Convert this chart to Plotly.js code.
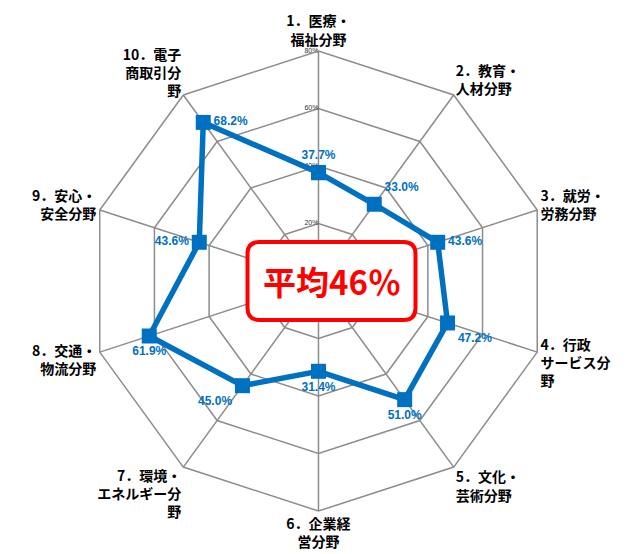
<!DOCTYPE html>
<html>
<head>
<meta charset="utf-8">
<script src="https://cdn.plot.ly/plotly-3.0.1.min.js"></script>
<style>
  html, body { margin: 0; padding: 0; background: #fff; }
  #chart { width: 627px; height: 554px; }
</style>
</head>
<body>
<div id="chart"></div>
<script>
// Categories (angular axis labels)
const categories = [
  "1．医療・<br>福祉分野",
  "2．教育・<br>人材分野",
  "3．就労・<br>労務分野",
  "4．行政<br>サービス分<br>野",
  "5．文化・<br>芸術分野",
  "6．企業経<br>営分野",
  "7．環境・<br>エネルギー分<br>野",
  "8．交通・<br>物流分野",
  "9．安心・<br>安全分野",
  "10．電子<br>商取引分<br>野"
];
// Series values (%)
const values = [37.7, 33.0, 43.6, 47.2, 51.0, 31.4, 45.0, 61.9, 43.6, 68.2];
// Radial tick values
const radialTicks = [20, 40, 60, 80];
const radialTickText = ["20%", "40%", "60%", "80%"];
const averageText = "平均46％";

const labelPositions = ["top center", "top right", "middle right", "bottom right",
  "bottom center", "bottom center", "bottom left", "bottom center", "middle left", "middle right"];

const r = values.concat([values[0]]);
const theta = categories.concat([categories[0]]);

const tickTrace = {
  type: "scatterpolar",
  r: radialTicks,
  theta: radialTicks.map(() => categories[0]),
  mode: "text",
  text: radialTickText,
  textposition: "middle left",
  textfont: { family: "Liberation Sans, Arial, sans-serif", size: 7, color: "#333" },
  cliponaxis: false,
  hoverinfo: "skip"
};

const trace = {
  type: "scatterpolar",
  r: r,
  theta: theta,
  mode: "lines+markers+text",
  text: values.map(v => v.toFixed(1) + "%").concat([""]),
  textposition: labelPositions.concat(["top center"]),
  textfont: { family: "Liberation Sans, Arial, sans-serif", size: 12, color: "#0070C0", weight: "bold" },
  line: { color: "#0070C0", width: 5.5 },
  marker: { symbol: "square", size: 15, color: "#0070C0" },
  cliponaxis: false,
  hoverinfo: "skip"
};

const cx = 331.5 / 627, cy = 1 - 281 / 554;
const hw = 84, hh = 39, rr = 12;
const boxPath =
  `M ${-hw + rr} ${-hh} L ${hw - rr} ${-hh} Q ${hw} ${-hh} ${hw} ${-hh + rr} ` +
  `L ${hw} ${hh - rr} Q ${hw} ${hh} ${hw - rr} ${hh} L ${-hw + rr} ${hh} ` +
  `Q ${-hw} ${hh} ${-hw} ${hh - rr} L ${-hw} ${-hh + rr} Q ${-hw} ${-hh} ${-hw + rr} ${-hh} Z`;

const layout = {
  width: 627,
  height: 554,
  margin: { l: 0, r: 0, t: 0, b: 0 },
  paper_bgcolor: "#ffffff",
  showlegend: false,
  font: { family: "Noto Sans CJK JP, sans-serif", color: "#000" },
  polar: {
    domain: { x: [0.1411, 0.8748], y: [0.0776, 0.9079] },
    bgcolor: "#ffffff",
    gridshape: "linear",
    radialaxis: {
      range: [0, 80],
      tickvals: radialTicks,
      showticklabels: false,
      angle: 90,
      showline: false,
      ticks: "",
      gridcolor: "#8c8c8c",
      gridwidth: 1.5
    },
    angularaxis: {
      direction: "clockwise",
      rotation: 90,
      linecolor: "#8c8c8c",
      linewidth: 1.5,
      gridcolor: "#8c8c8c",
      gridwidth: 1.5,
      ticks: "",
      tickfont: { family: "Noto Sans CJK JP, sans-serif", size: 14, color: "#000", weight: "bold" }
    }
  },
  shapes: [{
    type: "path",
    layer: "above",
    xref: "paper", yref: "paper",
    xsizemode: "pixel", ysizemode: "pixel",
    xanchor: cx, yanchor: cy,
    path: boxPath,
    line: { color: "#ff0000", width: 4 },
    fillcolor: "#ffffff"
  }],
  annotations: [{
    xref: "paper", yref: "paper",
    x: cx, y: cy,
    text: averageText,
    showarrow: false,
    font: { family: "Noto Sans CJK JP, sans-serif", size: 33, color: "#ff0000", weight: "bold" },
    xanchor: "center", yanchor: "middle"
  }]
};

Plotly.newPlot("chart", [tickTrace, trace], layout, { displayModeBar: false, staticPlot: true });
</script>
</body>
</html>
